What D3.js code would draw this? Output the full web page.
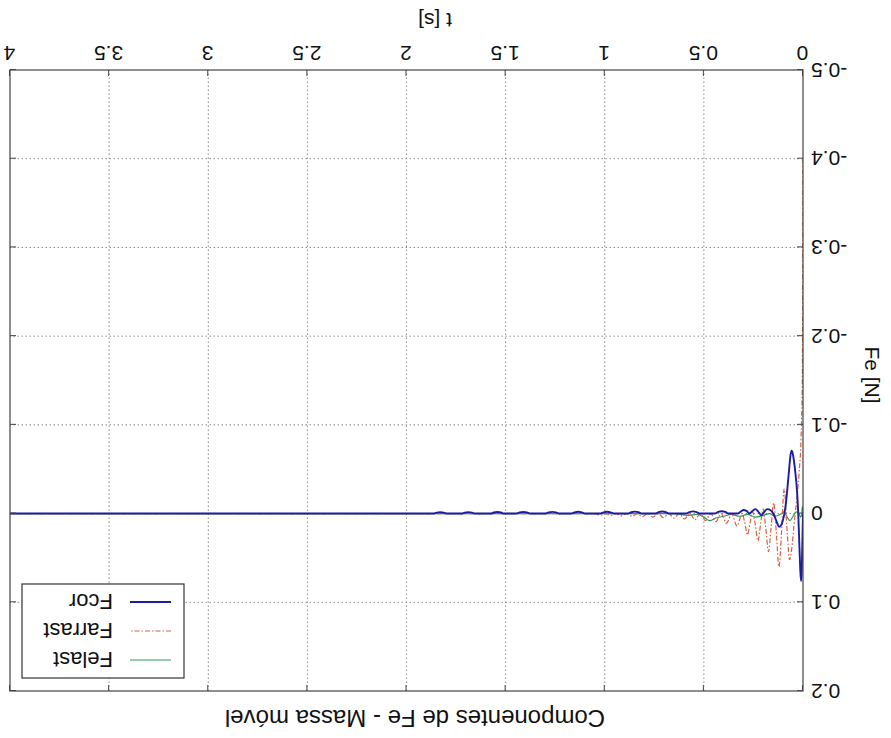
<!DOCTYPE html>
<html>
<head>
<meta charset="utf-8">
<script src="https://cdn.jsdelivr.net/npm/d3@7"></script>
<style>
  html, body { margin: 0; padding: 0; background: #ffffff; }
  svg { display: block; font-family: "Liberation Sans", Arial, sans-serif; }
</style>
</head>
<body>
<svg id="chart" width="891" height="738"></svg>
<script>
// Axis ticks
const tTicks = [0, 0.5, 1, 1.5, 2, 2.5, 3, 3.5, 4];
const fTicks = [-0.5, -0.4, -0.3, -0.2, -0.1, 0, 0.1, 0.2];

// Series names (legend order, top to bottom)
const seriesNames = ["Felast", "Farrast", "Fcor"];

// Fcor: time [s] and force [N]
const tCor = [0, 0.003, 0.007, 0.01, 0.014, 0.018, 0.024, 0.03, 0.038, 0.046, 0.052, 0.057, 0.063, 0.07, 0.078, 0.086, 0.094, 0.102, 0.11, 0.12, 0.13, 0.14, 0.15,
  0.165, 0.18, 0.195, 0.21, 0.225, 0.24, 0.255, 0.27, 0.285, 0.3, 0.315, 0.33,
  0.375, 0.392, 0.41, 0.428, 0.445,
  0.52, 0.537, 0.555, 0.573, 0.59,
  0.675, 0.692, 0.71, 0.728, 0.745,
  0.813, 0.83, 0.848, 0.866, 0.883,
  0.953, 0.97, 0.988, 1.006, 1.023,
  1.099, 1.116, 1.134, 1.152, 1.169,
  1.23, 1.247, 1.265, 1.283, 1.3,
  1.376, 1.393, 1.411, 1.429, 1.446,
  1.507, 1.524, 1.542, 1.56, 1.577,
  1.653, 1.67, 1.688, 1.706, 1.723,
  1.795, 1.812, 1.83, 1.848, 1.865,
  4.0];
const fCor = [0, 0.03, 0.068, 0.076, 0.062, 0.038, 0.0, -0.025, -0.045, -0.06, -0.068, -0.071, -0.066, -0.05, -0.03, -0.012, 0.0, 0.008, 0.013, 0.015, 0.011, 0.005, 0.0,
  -0.004, -0.005, -0.002, 0.002, -0.002, -0.005, -0.003, 0.0, -0.003, -0.004, -0.002, 0.0,
  0, -0.0018, -0.0026, -0.0018, 0,
  0, -0.0017, -0.0025, -0.0017, 0,
  0, -0.0016, -0.0023, -0.0016, 0,
  0, -0.0015, -0.0022, -0.0015, 0,
  0, -0.0014, -0.002, -0.0014, 0,
  0, -0.0014, -0.002, -0.0014, 0,
  0, -0.0013, -0.0019, -0.0013, 0,
  0, -0.0013, -0.0018, -0.0013, 0,
  0, -0.0012, -0.0017, -0.0012, 0,
  0, -0.0011, -0.0016, -0.0011, 0,
  0, -0.001, -0.0015, -0.001, 0,
  0];

// Farrast: time [s] and force [N]
const tArr = [0, 0.003, 0.01, 0.02, 0.032, 0.045, 0.057, 0.068, 0.08, 0.095, 0.108, 0.121, 0.135, 0.148, 0.161, 0.174, 0.188, 0.201, 0.214, 0.227, 0.241, 0.254, 0.267, 0.28, 0.294, 0.307,
  0.333, 0.36, 0.386, 0.413, 0.439, 0.465, 0.492, 0.518, 0.545, 0.571, 0.598, 0.624, 0.651, 0.677, 0.704, 0.73, 0.757, 0.783, 0.81, 0.836, 0.863, 0.889, 0.916, 0.942, 0.969, 0.995, 1.022, 1.048, 1.5, 4.0];
const fArr = [-0.40, -0.16, -0.085, -0.045, -0.015, 0.012, 0.04, 0.052, 0.02, -0.028, 0.02, 0.06, 0.02, -0.012, 0.016, 0.043, 0.016, -0.005, 0.012, 0.031, 0.012, -0.002, 0.01, 0.024, 0.01, 0.0,
  0.014, 0.0, 0.011, 0.0, 0.009, 0.0, 0.008, 0.0, 0.007, 0.0, 0.006, 0.0, 0.005, 0.0, 0.0045, 0.0, 0.004, 0.0, 0.0035, 0.0, 0.003, 0.0, 0.0025, 0.0, 0.002, 0.0, 0.0018, 0, 0, 0];

// Felast: time [s] and force [N]
const tEla = [0, 0.003, 0.007, 0.012, 0.02, 0.035, 0.05, 0.066, 0.08, 0.095, 0.115, 0.14, 0.17, 0.2, 0.24, 0.28, 0.32, 0.36, 0.4, 0.44, 0.47, 0.5, 0.53, 0.58, 0.65, 4.0];
const fEla = [0, -0.008, 0.002, 0.004, 0.0, -0.002, 0.003, 0.008, 0.004, -0.002, 0.001, 0.003, 0.0, 0.002, 0.004, 0.001, 0.003, 0.001, 0.003, 0.005, 0.008, 0.004, 0.001, 0.002, 0.0, 0];

const W = 891, H = 738;
const plot = { left: 88, right: 881, top: 47, bottom: 668 };

const x = d3.scaleLinear().domain([0, 4]).range([plot.left, plot.right]);
const y = d3.scaleLinear().domain([-0.5, 0.2]).range([plot.bottom, plot.top]);

const svg = d3.select("#chart");
svg.append("rect").attr("width", W).attr("height", H).attr("fill", "#ffffff");

// The whole figure is shown turned upside down
const root = svg.append("g").attr("transform", `rotate(180 ${W / 2} ${H / 2})`);

svg.append("defs").append("clipPath").attr("id", "plotClip")
  .append("rect")
  .attr("x", plot.left).attr("y", plot.top)
  .attr("width", plot.right - plot.left).attr("height", plot.bottom - plot.top);

// Grid
const grid = root.append("g").attr("stroke", "#8a8a8a").attr("stroke-width", 1)
  .attr("stroke-dasharray", "1.5,2.5");
grid.selectAll("line.gx").data(tTicks.slice(1, -1)).join("line")
  .attr("x1", d => x(d)).attr("x2", d => x(d))
  .attr("y1", plot.top).attr("y2", plot.bottom);
grid.selectAll("line.gy").data(fTicks.slice(1, -1)).join("line")
  .attr("y1", d => y(d)).attr("y2", d => y(d))
  .attr("x1", plot.left).attr("x2", plot.right);

// Data
const series = [
  { name: "Felast", t: tEla, v: fEla, color: "#2e9a5e", width: 1.2, dash: null },
  { name: "Farrast", t: tArr, v: fArr, color: "#d8603f", width: 1.2, dash: "5,2,1.5,2" },
  { name: "Fcor", t: tCor, v: fCor, color: "#1c1ca6", width: 1.9, dash: null }
];

const line = d3.line()
  .x(d => x(d[0]))
  .y(d => y(d[1]))
  .curve(d3.curveMonotoneX);

const dataG = root.append("g").attr("clip-path", "url(#plotClip)");
series.forEach(s => {
  dataG.append("path")
    .datum(d3.zip(s.t, s.v))
    .attr("fill", "none")
    .attr("stroke", s.color)
    .attr("stroke-width", s.width)
    .attr("stroke-dasharray", s.dash)
    .attr("stroke-linejoin", "round")
    .attr("d", line);
});

// Axes (ticks pointing inward on all four sides)
const fmt = d => String(d);
const axB = root.append("g").attr("transform", `translate(0,${plot.bottom})`)
  .call(d3.axisBottom(x).tickValues(tTicks).tickSize(-6).tickPadding(9).tickFormat(fmt));
const axT = root.append("g").attr("transform", `translate(0,${plot.top})`)
  .call(d3.axisTop(x).tickValues(tTicks).tickSize(-6).tickFormat(""));
const axL = root.append("g").attr("transform", `translate(${plot.left},0)`)
  .call(d3.axisLeft(y).tickValues(fTicks).tickSize(-6).tickPadding(8).tickFormat(fmt));
const axR = root.append("g").attr("transform", `translate(${plot.right},0)`)
  .call(d3.axisRight(y).tickValues(fTicks).tickSize(-6).tickFormat(""));

[axB, axT, axL, axR].forEach(a => {
  a.select(".domain").remove();
  a.selectAll(".tick line").attr("stroke", "#444");
  a.selectAll("text").attr("font-size", 21).attr("fill", "#111")
    .attr("font-family", "Liberation Sans, Arial, sans-serif");
});

// Frame
root.append("rect")
  .attr("x", plot.left).attr("y", plot.top)
  .attr("width", plot.right - plot.left).attr("height", plot.bottom - plot.top)
  .attr("fill", "none").attr("stroke", "#444").attr("stroke-width", 1.2);

// Titles
root.append("text")
  .attr("x", 476).attr("y", 28)
  .attr("text-anchor", "middle").attr("font-size", 24).attr("fill", "#111")
  .text("Componentes de Fe - Massa móvel");
root.append("text")
  .attr("x", 456).attr("y", 725)
  .attr("text-anchor", "middle").attr("font-size", 21).attr("fill", "#111")
  .text("t [s]");
root.append("text")
  .attr("transform", "translate(26,363) rotate(-90)")
  .attr("text-anchor", "middle").attr("font-size", 21).attr("fill", "#111")
  .text("Fe [N]");

// Legend
const leg = root.append("g");
leg.append("rect")
  .attr("x", 707).attr("y", 60).attr("width", 162).attr("height", 94)
  .attr("fill", "#ffffff").attr("stroke", "#333").attr("stroke-width", 1.2);
const legY = d3.scalePoint().domain(seriesNames).range([78, 136]);
series.forEach(s => {
  const yy = legY(s.name);
  leg.append("line")
    .attr("x1", 720).attr("x2", 761).attr("y1", yy).attr("y2", yy)
    .attr("stroke", s.color).attr("stroke-width", s.width)
    .attr("stroke-dasharray", s.dash);
  leg.append("text")
    .attr("x", 778).attr("y", yy).attr("dy", "0.36em")
    .attr("font-size", 22).attr("fill", "#111")
    .text(s.name);
});
</script>
</body>
</html>
